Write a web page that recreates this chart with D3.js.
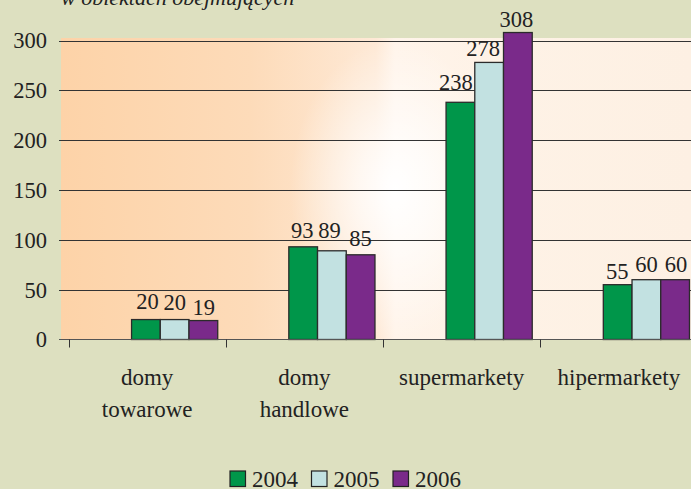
<!DOCTYPE html>
<html>
<head>
<meta charset="utf-8">
<script src="https://cdn.jsdelivr.net/npm/d3@7"></script>
<style>
  html, body { margin: 0; padding: 0; background: #dde0c0; }
  svg { display: block; }
</style>
</head>
<body>
<svg id="chart" width="691" height="489"></svg>
<script>
// Store formats and yearly counts
const categories = ["domy towarowe", "domy handlowe", "supermarkety", "hipermarkety"];
const categoryLines = [["domy", "towarowe"], ["domy", "handlowe"], ["supermarkety"], ["hipermarkety"]];
const years = ["2004", "2005", "2006"];
const values2004 = [20, 93, 238, 55];
const values2005 = [20, 89, 278, 60];
const values2006 = [19, 85, 308, 60];
const yTicks = [0, 50, 100, 150, 200, 250, 300];

// Hand placement tweaks for value labels [dx, extra lift], per category then year
const labelNudge = [
  [[1.5, 4], [0, 3], [0.5, -1]],
  [[-1, 1.5], [-2.5, 6], [0, 1.5]],
  [[-4.5, 5], [-6, -1], [-1.5, -1]],
  [[-0.5, -1], [0, 0.5], [1, 0.5]]
];

const colors = { "2004": "#00964a", "2005": "#c2e1e1", "2006": "#7a2a8a" };
const seriesValues = { "2004": values2004, "2005": values2005, "2006": values2006 };
const FONT = "Liberation Serif";

const svg = d3.select("#chart").attr("font-family", FONT);
const W = 691, H = 489;

function txt(sel, size) {
  return sel.attr("font-family", FONT).attr("font-size", size).attr("fill", "#222");
}

// page background
svg.append("rect").attr("width", W).attr("height", H).attr("fill", "#dde0c0");

// caption line running off the top edge
txt(svg.append("text"), 22)
  .attr("x", 61).attr("y", 5)
  .attr("font-style", "italic")
  .text("w obiektach obejmujących");

const plot = { left: 61, top: 38, right: 700, bottom: 339.5 };

const x = d3.scaleBand().domain(categories).range([68.5, 697.5]).paddingInner(0).paddingOuter(0);
const bw = x.bandwidth();
const xs = d3.scaleBand().domain(years).range([bw * 0.401, bw * 0.949]).padding(0);
const y = d3.scaleLinear().domain([0, 300]).range([339.5, 40.5]);

// plot area fill
const defs = svg.append("defs");
const lg = defs.append("linearGradient").attr("id", "plotFill")
  .attr("gradientUnits", "userSpaceOnUse")
  .attr("x1", plot.left).attr("y1", 0).attr("x2", 691).attr("y2", 0);
[[0, "#fdd3a8"], [0.3, "#fddbb9"], [0.5, "#fee9d6"], [0.53, "#fff4ea"], [0.7, "#fef2e6"], [1, "#fdf0e3"]]
  .forEach(([o, c]) => lg.append("stop").attr("offset", o).attr("stop-color", c));
const rg = defs.append("radialGradient").attr("id", "plotGlow")
  .attr("gradientUnits", "userSpaceOnUse")
  .attr("cx", 395).attr("cy", 190).attr("r", 150)
  .attr("gradientTransform", "translate(395,190) scale(0.7,1) translate(-395,-190)");
[[0, "#ffffff", 1], [0.35, "#ffffff", 0.7], [1, "#ffffff", 0]]
  .forEach(([o, c, a]) => rg.append("stop").attr("offset", o).attr("stop-color", c).attr("stop-opacity", a));

svg.append("rect")
  .attr("x", plot.left).attr("y", plot.top)
  .attr("width", plot.right - plot.left).attr("height", plot.bottom - plot.top)
  .attr("fill", "url(#plotFill)");
svg.append("rect")
  .attr("x", plot.left).attr("y", plot.top)
  .attr("width", plot.right - plot.left).attr("height", plot.bottom - plot.top)
  .attr("fill", "url(#plotGlow)");

// gridlines
svg.append("g").selectAll("line").data(yTicks.filter(d => d > 0)).join("line")
  .attr("x1", 59).attr("x2", plot.right)
  .attr("y1", d => Math.round(y(d)) + 0.5).attr("y2", d => Math.round(y(d)) + 0.5)
  .attr("stroke", "#333").attr("stroke-width", 1.2);

// y axis labels
const yAxis = d3.axisLeft(y).tickValues(yTicks).tickSize(0).tickPadding(0);
const ya = svg.append("g").attr("transform", "translate(47,0)").call(yAxis);
ya.attr("font-family", FONT).attr("font-size", 22.5);
ya.select(".domain").remove();
ya.selectAll("text").attr("fill", "#222").attr("dy", "0.33em");

// bars
const groups = svg.append("g").selectAll("g").data(categories).join("g")
  .attr("transform", d => `translate(${x(d)},0)`);
groups.selectAll("rect")
  .data((c, i) => years.map(yr => ({ yr, v: seriesValues[yr][i] })))
  .join("rect")
  .attr("x", d => xs(d.yr))
  .attr("y", d => y(d.v))
  .attr("width", xs.bandwidth())
  .attr("height", d => y(0) - y(d.v))
  .attr("fill", d => colors[d.yr])
  .attr("stroke", "#2b2b2b").attr("stroke-width", 1.3);

// value labels
txt(groups.selectAll("text.val")
  .data((c, i) => years.map((yr, j) => ({ yr, v: seriesValues[yr][i], n: labelNudge[i][j] })))
  .join("text").attr("class", "val"), 22.5)
  .attr("x", d => xs(d.yr) + xs.bandwidth() / 2 + d.n[0])
  .attr("y", d => y(d.v) - 7 - d.n[1])
  .attr("text-anchor", "middle")
  .text(d => d.v);

// x axis baseline and category ticks
svg.append("line")
  .attr("x1", 59).attr("x2", plot.right).attr("y1", y(0)).attr("y2", y(0))
  .attr("stroke", "#555").attr("stroke-width", 1.2);
const boundaries = categories.map(c => x(c));
svg.append("g").selectAll("line").data(boundaries).join("line")
  .attr("x1", d => Math.round(d) + 0.5).attr("x2", d => Math.round(d) + 0.5)
  .attr("y1", y(0)).attr("y2", y(0) + 8)
  .attr("stroke", "#333").attr("stroke-width", 1);

// category labels
txt(svg.append("g").selectAll("text").data(categories).join("text"), 23)
  .attr("x", d => x(d) + bw / 2)
  .attr("y", 385)
  .attr("text-anchor", "middle")
  .each(function (d, i) {
    const t = d3.select(this);
    categoryLines[i].forEach((line, k) => {
      t.append("tspan").attr("x", x(d) + bw / 2).attr("dy", k === 0 ? 0 : 32).text(line);
    });
  });

// legend
const legendX = [230, 311.5, 393];
const lgd = svg.append("g").selectAll("g").data(years).join("g")
  .attr("transform", (d, i) => `translate(${legendX[i]},471)`);
lgd.append("rect").attr("width", 15.5).attr("height", 15.5)
  .attr("fill", d => colors[d]).attr("stroke", "#222").attr("stroke-width", 1.2);
txt(lgd.append("text"), 23).attr("x", 22).attr("y", 15.5).text(d => d);
</script>
</body>
</html>
